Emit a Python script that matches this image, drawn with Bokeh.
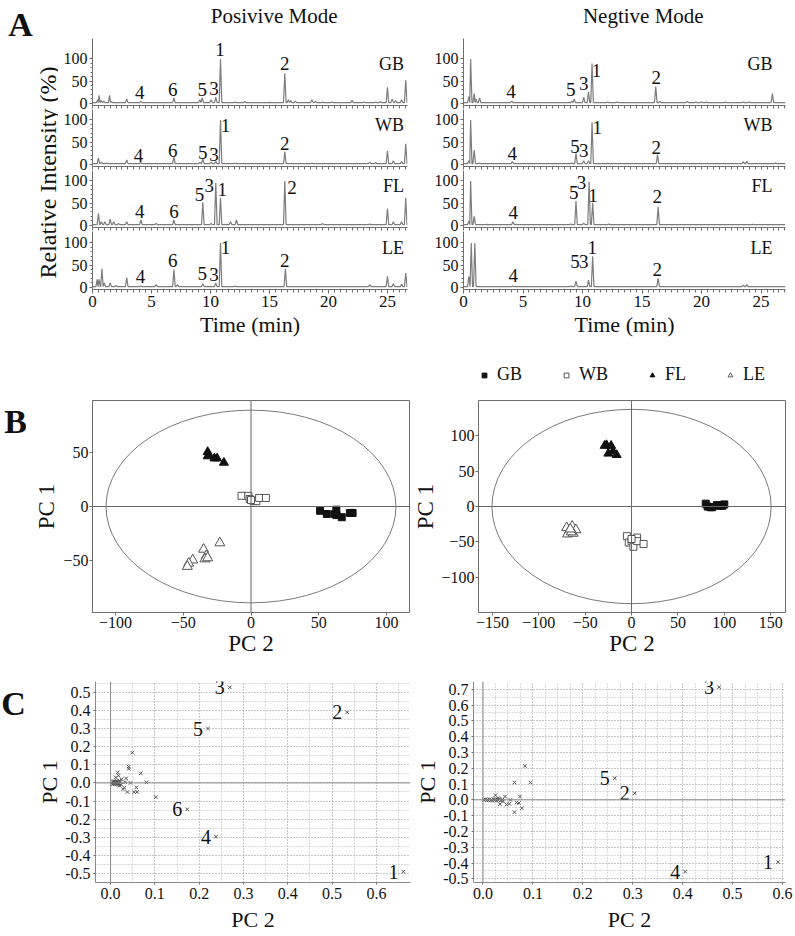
import math
from bokeh.plotting import figure
from bokeh.layouts import column, row
from bokeh.models import (Range1d, SingleIntervalTicker, FixedTicker, Span, Legend,
                          LegendItem, PrintfTickFormatter)
from bokeh.core.properties import value
from bokeh.embed import file_html
from bokeh.resources import INLINE

FONT = "Liberation Serif"
AXC = "#6e6e6e"
TRACE_C = "#7d7d7d"

# ---------------- Panel A : chromatogram peaks (retention time min, relative intensity %)
POS_GB = [(0.45, 8), (0.55, 18), (0.75, 6), (0.95, 5), (1.45, 18), (1.6, 4), (2.9, 10), (4.1, 4),
          (6.9, 12), (9.1, 8), (9.3, 12), (10.05, 8), (10.45, 14), (10.85, 100), (12.1, 3), (12.9, 4),
          (15.0, 2), (16.3, 68), (16.6, 8), (16.8, 6), (17.2, 5), (18.6, 8), (18.9, 4), (19.5, 3),
          (20.3, 3), (22.0, 7), (23.0, 3), (24.0, 3), (24.4, 4), (25.0, 36), (25.4, 10), (25.7, 6),
          (26.2, 8), (26.55, 52)]
POS_WB = [(0.5, 14), (0.75, 5), (1.2, 3), (2.9, 10), (4.1, 4), (6.9, 17), (9.1, 4), (9.35, 12),
          (10.05, 5), (10.45, 6), (10.85, 100), (12.1, 3), (16.3, 28), (18.6, 3), (23.5, 5), (24.0, 4),
          (25.0, 30), (25.5, 8), (26.2, 6), (26.55, 46)]
POS_FL = [(0.5, 27), (0.75, 8), (1.05, 8), (1.5, 14), (1.8, 8), (2.2, 4), (2.9, 8), (4.1, 12),
          (5.4, 4), (6.9, 12), (9.35, 52), (10.05, 4), (10.45, 96), (10.85, 62), (11.7, 8), (12.2, 12),
          (16.3, 100), (19.5, 4), (23.5, 3), (25.0, 38), (25.5, 8), (26.2, 8), (26.55, 62)]
POS_LE = [(0.4, 18), (0.55, 18), (0.8, 42), (1.0, 10), (1.5, 10), (2.0, 4), (2.9, 22), (4.1, 3),
          (5.4, 6), (6.9, 40), (7.2, 6), (9.35, 8), (10.45, 10), (10.85, 100), (12.1, 3), (16.35, 42),
          (23.5, 6), (25.0, 25), (25.5, 8), (26.2, 7), (26.55, 32)]

NEG_GB = [(0.45, 15), (0.6, 100), (0.9, 22), (1.05, 10), (1.35, 12), (4.05, 5), (9.1, 5), (9.3, 10),
          (10.1, 14), (10.5, 26), (10.8, 90), (12.1, 3), (12.9, 3), (16.15, 38), (16.5, 4), (18.8, 4),
          (19.5, 3), (20.0, 3), (20.4, 3), (22.0, 3), (23.5, 3), (24.0, 3), (25.95, 22)]
NEG_WB = [(0.45, 8), (0.6, 100), (0.9, 32), (1.3, 3), (4.1, 6), (9.1, 3), (9.45, 25), (10.1, 8),
          (10.5, 8), (10.8, 95), (12.1, 2), (16.3, 22), (20.5, 2), (23.5, 6), (23.8, 7), (26.2, 3)]
NEG_FL = [(0.45, 10), (0.6, 100), (0.9, 20), (2.0, 2), (4.15, 8), (9.0, 3), (9.45, 55), (10.1, 5),
          (10.55, 98), (10.85, 50), (12.2, 3), (16.35, 42), (24.3, 2)]
NEG_LE = [(0.45, 25), (0.65, 100), (0.95, 100), (4.15, 3), (9.0, 3), (9.45, 14), (10.5, 16),
          (10.85, 70), (16.35, 20), (23.5, 5), (23.8, 6)]

# peak-number labels (x, y, text)
POS_GB_LAB = [(4.0, 24, "4"), (6.8, 32, "6"), (9.3, 32, "5"), (10.3, 33, "3"), (10.8, 122, "1"), (16.3, 90, "2")]
POS_WB_LAB = [(3.9, 20, "4"), (6.8, 31, "6"), (9.35, 27, "5"), (10.3, 23, "3"), (11.27, 88, "1"), (16.3, 46, "2")]
POS_FL_LAB = [(4.0, 32, "4"), (6.9, 30, "6"), (9.07, 70, "5"), (9.9, 89, "3"), (11.0, 81, "1"), (16.9, 85, "2")]
POS_LE_LAB = [(4.07, 25, "4"), (6.8, 61, "6"), (9.3, 32, "5"), (10.3, 29, "3"), (11.27, 89, "1"), (16.3, 61, "2")]
NEG_GB_LAB = [(4.0, 26, "4"), (9.0, 31, "5"), (10.1, 44, "3"), (11.18, 74, "1"), (16.2, 59, "2")]
NEG_WB_LAB = [(4.09, 24, "4"), (9.36, 41, "5"), (10.1, 30, "3"), (11.23, 82, "1"), (16.2, 37, "2")]
NEG_FL_LAB = [(4.17, 28, "4"), (9.27, 74, "5"), (9.92, 96, "3"), (10.87, 67, "1"), (16.27, 64, "2")]
NEG_LE_LAB = [(4.17, 26, "4"), (9.36, 58, "5"), (10.1, 58, "3"), (10.81, 90, "1"), (16.27, 41, "2")]

SAMPLES = ["GB", "WB", "FL", "LE"]
A_Y_TICKS = [0, 50, 100]
A_Y_MINOR = [0, 10, 20, 30, 40, 50, 60, 70, 80, 90, 100]
A_X_MINOR = [0.5 * i for i in range(0, 55)]

# ---------------- Panel B : PCA scores (PC2, PC1)
BL_GB_X = [51, 56, 62, 63, 63, 67, 73, 75]
BL_GB_Y = [-4, -7, -7, -3, -8, -10, -6, -6]
BL_WB_X = [-7, -2, -1, 2, 4, 6, 11, 0]
BL_WB_Y = [10, 10, 7, 5, 5, 8, 8, 6]
BL_FL_X = [-32, -32, -31, -27, -25, -20]
BL_FL_Y = [51, 47, 48, 45, 45, 41]
BL_LE_X = [-23, -35, -33, -34, -32, -43, -46, -47]
BL_LE_Y = [-34, -40, -46, -49, -48, -50, -53, -56]

BR_GB_X = [80, 82, 85, 87, 92, 95, 98, 100]
BR_GB_Y = [4, 0, -1, -1, 2, 1, 1, 3]
BR_WB_X = [-5, -3, 0, 2, 6, 6, 13, 0]
BR_WB_Y = [-42, -51, -49, -57, -44, -49, -53, -46]
BR_FL_X = [-29, -27, -22, -25, -16, -20]
BR_FL_Y = [86, 87, 86, 75, 73, 78]
BR_LE_X = [-70, -64, -67, -60, -69, -63, -65, -66]
BR_LE_Y = [-30, -28, -34, -33, -39, -38, -36, -32]

BL_ELLIPSE = (214, 180)
BR_ELLIPSE = (301, 275)
BL_XTICKS = [-100, -50, 0, 50, 100]
BL_YTICKS = [-50, 0, 50]
BR_XTICKS = [-150, -100, -50, 0, 50, 100, 150]
BR_YTICKS = [-100, -50, 0, 50, 100]

# ---------------- Panel C : loadings (PC2, PC1)
CL_X = [0.049, 0.041, 0.041, 0.068, 0.081, 0.102, 0.053, 0.060, 0.038, 0.016, 0.018, 0.045, 0.033,
        0.031, 0.058, 0.025, 0.020, 0.028, 0.012, 0.035,
        0.003, 0.005, 0.006, 0.008, 0.009, 0.010, 0.011, 0.012, 0.013, 0.014, 0.015, 0.016, 0.017,
        0.007, 0.004, 0.018, 0.020, 0.019, 0.022, 0.024]
CL_Y = [0.167, 0.089, 0.078, 0.053, 0.003, -0.079, -0.051, -0.050, -0.050, 0.058, 0.040, 0.000, 0.004,
        -0.027, -0.025, 0.020, -0.015, -0.035, 0.030, 0.025,
        0.000, 0.005, -0.004, 0.002, -0.006, 0.008, -0.002, 0.004, -0.008, 0.010, -0.003, 0.006, -0.010,
        0.010, -0.008, 0.002, 0.012, -0.006, 0.005, -0.010]
CL_LAB_X = [0.661, 0.534, 0.269, 0.238, 0.220, 0.173]
CL_LAB_Y = [-0.490, 0.390, 0.528, -0.297, 0.300, -0.146]
CL_LAB_T = ["1", "2", "3", "4", "5", "6"]

CR_X = [0.084, 0.063, 0.095, 0.044, 0.074, 0.025, 0.063, 0.078, 0.047, 0.067, 0.034, 0.053, 0.072,
        0.040, 0.030, 0.055,
        0.002, 0.005, 0.007, 0.009, 0.011, 0.013, 0.015, 0.017, 0.019, 0.021, 0.023, 0.025, 0.027,
        0.029, 0.031, 0.033, 0.036, 0.039]
CR_Y = [0.215, 0.110, 0.110, 0.021, 0.021, 0.030, -0.078, -0.053, -0.030, -0.017, -0.027, -0.025, -0.020,
        -0.010, 0.010, 0.000,
        0.000, 0.003, -0.003, 0.002, -0.002, 0.004, -0.004, 0.001, -0.005, 0.005, -0.002, 0.003, -0.006,
        0.002, -0.003, 0.006, -0.004, 0.001]
CR_LAB_X = [0.591, 0.304, 0.473, 0.405, 0.264]
CR_LAB_Y = [-0.394, 0.042, 0.713, -0.454, 0.137]
CR_LAB_T = ["1", "2", "3", "4", "5"]

C_X_TICKS = [0.0, 0.1, 0.2, 0.3, 0.4, 0.5, 0.6]
CL_Y_TICKS = [-0.5, -0.4, -0.3, -0.2, -0.1, 0.0, 0.1, 0.2, 0.3, 0.4, 0.5]
CR_Y_TICKS = [-0.5, -0.4, -0.3, -0.2, -0.1, 0.0, 0.1, 0.2, 0.3, 0.4, 0.5, 0.6, 0.7]

MARKER_STYLES = [dict(marker="square", size=7, fill_color="#111111", line_color="#111111"),
                 dict(marker="square", size=7, fill_color="white", line_color="#555555"),
                 dict(marker="triangle", size=9, fill_color="#111111", line_color="#111111"),
                 dict(marker="triangle", size=10, fill_color="white", line_color="#555555")]


def fig(**kw):
    return figure(toolbar_location=None, output_backend="svg", **kw)


def blank(w, h):
    p = fig(width=w, height=h, x_range=Range1d(0, w), y_range=Range1d(h, 0),
            x_axis_location=None, y_axis_location=None, min_border=0)
    p.grid.visible = False
    p.outline_line_color = None
    return p


def text_box(w, h, items):
    p = blank(w, h)
    for (x, y, t, size, ang, style) in items:
        p.text(x=[x], y=[y], text=[t], angle=ang, text_font=value(FONT),
               text_font_size=value(size), text_font_style=style, text_align="center",
               text_baseline="middle", text_color="#111111")
    return p


def build_trace(peaks, xmax, base=1.5, w=0.11):
    pk = sorted(peaks)
    xs, ys = [0.0], [base]
    for i, (t, h) in enumerate(pk):
        if t - w > xs[-1]:
            xs.append(t - w); ys.append(base)
        xs.append(t); ys.append(h)
        if i + 1 < len(pk) and pk[i + 1][0] - w <= t + w:
            xs.append((t + pk[i + 1][0]) / 2); ys.append(base)
        else:
            xs.append(t + w); ys.append(base)
    xs.append(xmax); ys.append(base)
    return xs, ys


PX_PER_UNIT = 0.443


def chrom(peaks, labels, name, side, kind):
    if side == "L":
        width, mbl, mbr, xmax, name_x = 352, 34, 3, 26.7, 26.4
    else:
        width, mbl, mbr, xmax, name_x = 385, 53, 10, 27.05, 25.95
    if kind == "GB":
        h, frame, bottom = 71, 67, 4
    elif kind == "LE":
        h, frame, bottom = 110, 58, 52
    else:
        h, frame, bottom = 61, 57, 4
    p = fig(width=width, height=h, x_range=Range1d(0, xmax),
            y_range=Range1d(-5, -5 + frame / PX_PER_UNIT),
            min_border_left=mbl, min_border_right=mbr, min_border_top=0, min_border_bottom=bottom)
    p.grid.visible = False
    p.outline_line_color = None
    xs, ys = build_trace(peaks, xmax)
    p.line(xs, ys, line_color=TRACE_C, line_width=1.2)
    p.text(x=[l[0] for l in labels], y=[l[1] for l in labels], text=[l[2] for l in labels],
           text_font=value(FONT), text_font_size=value("19px"), text_align="center",
           text_baseline="middle", text_color="#111111")
    p.text(x=[name_x], y=[88], text=[name], text_font=value(FONT), text_font_size=value("18px"),
           text_align="right", text_baseline="middle", text_color="#111111")
    for ax in (p.xaxis[0], p.yaxis[0]):
        ax.axis_line_color = AXC
        ax.major_tick_line_color = AXC
        ax.minor_tick_line_color = AXC
        ax.major_tick_in = 0
        ax.minor_tick_in = 0
        ax.major_label_text_font = FONT
        ax.major_label_text_font_size = "17px"
        ax.major_label_text_color = "#111111"
    p.yaxis.ticker = FixedTicker(ticks=A_Y_TICKS, minor_ticks=A_Y_MINOR)
    p.yaxis.major_label_text_font_size = "16px"
    p.yaxis.major_tick_out = 3
    p.yaxis.minor_tick_out = 2
    p.yaxis.major_label_standoff = 2
    p.xaxis.major_tick_out = 4
    p.xaxis.minor_tick_out = 3
    if kind == "LE":
        p.xaxis.ticker = SingleIntervalTicker(interval=5, num_minor_ticks=10)
        p.xaxis.major_label_standoff = 2
        p.xaxis.axis_label = "Time (min)"
        p.xaxis.axis_label_text_font = FONT
        p.xaxis.axis_label_text_font_size = "22px"
        p.xaxis.axis_label_text_font_style = "normal"
        p.xaxis.axis_label_text_color = "#111111"
        p.xaxis.axis_label_standoff = 2
    else:
        p.xaxis.ticker = FixedTicker(ticks=[], minor_ticks=A_X_MINOR)
        p.xaxis.major_label_standoff = 0
    return p


POS = [(POS_GB, POS_GB_LAB), (POS_WB, POS_WB_LAB), (POS_FL, POS_FL_LAB), (POS_LE, POS_LE_LAB)]
NEG = [(NEG_GB, NEG_GB_LAB), (NEG_WB, NEG_WB_LAB), (NEG_FL, NEG_FL_LAB), (NEG_LE, NEG_LE_LAB)]

stripA = text_box(58, 341, [(20, 24, "A", "34px", 0, "bold"),
                            (47, 172, "Relative Intensity (%)", "24px", math.pi / 2, "normal")])
hdrL = text_box(352, 38, [(203, 15, "Posivive Mode", "21px", 0, "normal")])
hdrR = text_box(385, 38, [(215, 15, "Negtive Mode", "21px", 0, "normal")])
colL = column(hdrL, *[chrom(pk, lb, s, "L", s) for (pk, lb), s in zip(POS, SAMPLES)])
colR = column(hdrR, *[chrom(pk, lb, s, "R", s) for (pk, lb), s in zip(NEG, SAMPLES)])
rowA = row(stripA, colL, colR)


def style_axes(p, tick_font, label_font, tick_out, standoff, label_standoff):
    for ax in (p.xaxis[0], p.yaxis[0]):
        ax.axis_line_color = AXC
        ax.major_tick_line_color = AXC
        ax.major_tick_in = 0
        ax.major_tick_out = tick_out
        ax.minor_tick_line_color = None
        ax.major_label_text_font = FONT
        ax.major_label_text_font_size = tick_font
        ax.major_label_text_color = "#111111"
        ax.major_label_standoff = standoff
        ax.axis_label_text_font = FONT
        ax.axis_label_text_font_size = label_font
        ax.axis_label_text_font_style = "normal"
        ax.axis_label_text_color = "#111111"
        ax.axis_label_standoff = label_standoff
    p.xaxis.axis_label = "PC 2"
    p.yaxis.axis_label = "PC 1"


def pca(side):
    if side == "L":
        width, mbl, mbr, h, top = 384, 66, 1, 320, 59
        xr, yr = (-117, 117), (-99, 99)
        xt, yt, ell = BL_XTICKS, BL_YTICKS, BL_ELLIPSE
        data = [(BL_GB_X, BL_GB_Y), (BL_WB_X, BL_WB_Y), (BL_FL_X, BL_FL_Y), (BL_LE_X, BL_LE_Y)]
    else:
        width, mbl, mbr, h, top = 385, 56, 10, 261, 0
        xr, yr = (-165, 166), (-150, 150)
        xt, yt, ell = BR_XTICKS, BR_YTICKS, BR_ELLIPSE
        data = [(BR_GB_X, BR_GB_Y), (BR_WB_X, BR_WB_Y), (BR_FL_X, BR_FL_Y), (BR_LE_X, BR_LE_Y)]
    p = fig(width=width, height=h, x_range=Range1d(*xr), y_range=Range1d(*yr),
            min_border_left=mbl, min_border_right=mbr, min_border_top=top, min_border_bottom=49)
    p.grid.visible = False
    p.outline_line_color = AXC
    p.ellipse(x=[0], y=[0], width=[ell[0]], height=[ell[1]], fill_color=None,
              line_color="#7a7a7a", line_width=1)
    p.add_layout(Span(location=0, dimension="height", line_color="#666666", line_width=1))
    p.add_layout(Span(location=0, dimension="width", line_color="#666666", line_width=1))
    for (x, y), st in zip(data, MARKER_STYLES):
        p.scatter(x=x, y=y, line_width=1, **st)
    p.xaxis.ticker = FixedTicker(ticks=xt)
    p.yaxis.ticker = FixedTicker(ticks=yt)
    style_axes(p, "16px", "23px", 3, 1, 1 if side == "L" else 0)
    p.xaxis.axis_label_standoff = 0
    return p


def legend_box(w, h):
    # legend strip above the right score plot; its renderers hold the right-plot scores
    # but the strip's ranges keep them out of view, so only the legend swatches show
    p = fig(width=w, height=h, x_range=Range1d(200, 201), y_range=Range1d(200, 201),
            x_axis_location=None, y_axis_location=None, min_border=0)
    p.grid.visible = False
    p.outline_line_color = None
    data = [(BR_GB_X, BR_GB_Y), (BR_WB_X, BR_WB_Y), (BR_FL_X, BR_FL_Y), (BR_LE_X, BR_LE_Y)]
    rends = [p.scatter(x=x, y=y, line_width=1, **st) for (x, y), st in zip(data, MARKER_STYLES)]
    legend = Legend(items=[LegendItem(label=s, renderers=[r]) for s, r in zip(SAMPLES, rends)],
                    orientation="horizontal", location=(0, 15))
    legend.border_line_color = None
    legend.background_fill_alpha = 0
    legend.padding = 0
    legend.margin = 0
    legend.spacing = 38
    legend.glyph_width = 12
    legend.glyph_height = 12
    legend.label_standoff = 7
    legend.label_width = 0
    legend.label_text_font = FONT
    legend.label_text_font_size = "18px"
    legend.label_text_color = "#111111"
    p.add_layout(legend)
    return p


stripB = text_box(26, 320, [(15, 32, "B", "34px", 0, "bold")])
rowB = row(stripB, pca("L"), column(legend_box(385, 59), pca("R")))


def loading(side):
    if side == "L":
        width, mbl, mbr = 386, 69, 2
        xr, yr = (-0.034, 0.677), (-0.55, 0.56)
        yt = CL_Y_TICKS
        xminor = [round(0.05 * i, 3) for i in range(0, 14)]
        yminor = [round(-0.55 + 0.05 * i, 3) for i in range(0, 23)]
        x, y, lx, ly, lt = CL_X, CL_Y, CL_LAB_X, CL_LAB_Y, CL_LAB_T
    else:
        width, mbl, mbr = 383, 59, 10
        xr, yr = (-0.019, 0.606), (-0.523, 0.749)
        yt = CR_Y_TICKS
        xminor = [round(0.025 * i, 3) for i in range(0, 25)]
        yminor = [round(-0.5 + 0.05 * i, 3) for i in range(0, 25)]
        x, y, lx, ly, lt = CR_X, CR_Y, CR_LAB_X, CR_LAB_Y, CR_LAB_T
    p = fig(width=width, height=275, x_range=Range1d(*xr), y_range=Range1d(*yr),
            min_border_left=mbl, min_border_right=mbr, min_border_top=20, min_border_bottom=54)
    p.outline_line_color = None
    p.xaxis.ticker = FixedTicker(ticks=C_X_TICKS, minor_ticks=xminor)
    p.yaxis.ticker = FixedTicker(ticks=yt, minor_ticks=yminor)
    p.xaxis.formatter = PrintfTickFormatter(format="%.1f")
    p.yaxis.formatter = PrintfTickFormatter(format="%.1f")
    for g in (p.xgrid[0], p.ygrid[0]):
        g.grid_line_color = "#b5b5b5"
        g.grid_line_dash = "1 2"
        g.grid_line_width = 1
        g.minor_grid_line_color = "#b5b5b5"
        g.minor_grid_line_dash = "1 2"
        g.minor_grid_line_width = 1
    p.add_layout(Span(location=0, dimension="height", line_color="#8a8a8a", line_width=1))
    p.add_layout(Span(location=0, dimension="width", line_color="#8a8a8a", line_width=1))
    p.scatter(x=x, y=y, marker="x", size=5, line_color="#555555", line_width=1)
    p.scatter(x=lx, y=ly, marker="x", size=5, line_color="#555555", line_width=1)
    p.text(x=lx, y=ly, text=lt, x_offset=-5, text_font=value(FONT), text_font_size=value("20px"),
           text_align="right", text_baseline="middle", text_color="#111111")
    style_axes(p, "16px", "22px", 2, 1, 0)
    p.xaxis.axis_label_standoff = 5
    p.axis.axis_line_color = "#8a8a8a"
    return p


stripC = text_box(26, 275, [(13, 30, "C", "34px", 0, "bold")])
rowC = row(stripC, loading("L"), loading("R"))

layout = column(rowA, rowB, rowC)

open("out.html", "w").write(file_html(layout, INLINE))
